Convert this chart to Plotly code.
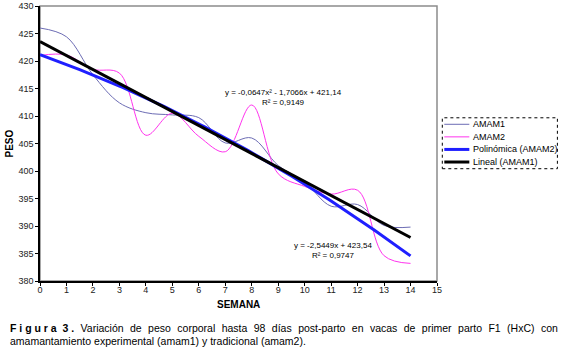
import plotly.graph_objects as go
import numpy as np

# ---- data ----
semanas = list(range(0, 15))
amam1 = [426.0, 424.4, 417.5, 412.4, 410.6, 410.2, 409.7, 405.1, 406.0, 401.0, 398.0, 393.6, 393.9, 390.1, 389.8]
amam2 = [421.0, 421.1, 418.5, 417.8, 406.5, 410.5, 406.3, 403.5, 412.0, 399.5, 397.2, 395.8, 396.5, 384.6, 383.2]
# trend line coefficients printed on the chart (highest power first)
coef_poly_amam2 = [-0.0647, -1.7066, 421.14]
coef_lin_amam1 = [-2.5449, 423.54]
eq_poly = "y = -0,0647x² - 1,7066x + 421,14<br>R² = 0,9149"
eq_lin = "y = -2,5449x + 423,54<br>R² = 0,9747"
x_ticks = list(range(0, 16))
y_ticks = list(range(380, 431, 5))
legend_names = ["AMAM1", "AMAM2", "Polinómica (AMAM2)", "Lineal (AMAM1)"]

col_amam1 = "#6c6cb4"
col_amam2 = "#ff33ee"
col_poly = "#1f1fff"
col_lin = "#000000"

FONT = "Liberation Sans, Arial, sans-serif"

xt = np.linspace(min(semanas), max(semanas), 141)
poly_y = np.polyval(coef_poly_amam2, xt)
lin_y = np.polyval(coef_lin_amam1, xt)

fig = go.Figure()
fig.add_trace(go.Scatter(x=semanas, y=amam1, mode="lines", name=legend_names[0],
                         line=dict(color=col_amam1, width=1, shape="spline", smoothing=1.0)))
fig.add_trace(go.Scatter(x=semanas, y=amam2, mode="lines", name=legend_names[1],
                         line=dict(color=col_amam2, width=1, shape="spline", smoothing=1.0)))
fig.add_trace(go.Scatter(x=xt, y=poly_y, mode="lines", name=legend_names[2],
                         line=dict(color=col_poly, width=3)))
fig.add_trace(go.Scatter(x=xt, y=lin_y, mode="lines", name=legend_names[3],
                         line=dict(color=col_lin, width=3)))

W, H = 564, 351
# plot-area geometry in pixels
L, R, T, B = 40, 436.7, 6, 281.5
pw, ph = R - L, B - T

def px(xp):
    return (xp - L) / pw

def py(yp):
    return (B - yp) / ph

shapes = [dict(type="rect", xref="paper", yref="paper", x0=0, x1=1, y0=0, y1=1,
               line=dict(color="#8c8c8c", width=1.5), layer="below")]
annotations = []

# manual compact legend (Excel style)
lx0, lx1, ly0, ly1 = 442, 557, 118, 169
shapes.append(dict(type="rect", xref="paper", yref="paper", x0=px(lx0), x1=px(lx1),
                   y0=py(ly1), y1=py(ly0), line=dict(color="#000000", width=1, dash="dot"),
                   fillcolor="white"))
leg_cols = [col_amam1, col_amam2, col_poly, col_lin]
leg_w = [1, 1, 3, 3]
for i, (nm, c, w) in enumerate(zip(legend_names, leg_cols, leg_w)):
    yy = 124.5 + i * 12.6
    shapes.append(dict(type="line", xref="paper", yref="paper", x0=px(444), x1=px(469),
                       y0=py(yy), y1=py(yy), line=dict(color=c, width=w)))
    annotations.append(dict(xref="paper", yref="paper", x=px(471), y=py(yy), text=nm,
                            showarrow=False, xanchor="left", yanchor="middle",
                            font=dict(family=FONT, size=9, color="#000")))

# trend line equations
annotations.append(dict(x=(283 - L) / 26.45, y=430 - (98 - T) / 5.51, text=eq_poly, showarrow=False,
                        xref="x", yref="y", align="center", xanchor="center", yanchor="middle",
                        font=dict(family=FONT, size=8, color="#000")))
annotations.append(dict(x=(332.5 - L) / 26.45, y=430 - (251 - T) / 5.51, text=eq_lin, showarrow=False,
                        xref="x", yref="y", align="center", xanchor="center", yanchor="middle",
                        font=dict(family=FONT, size=8, color="#000")))

# axis titles
annotations.append(dict(xref="paper", yref="paper", x=px(10), y=0.5, text="<b>PESO</b>",
                        textangle=-90, showarrow=False, xanchor="center", yanchor="middle",
                        font=dict(family=FONT, size=10, color="#000")))
annotations.append(dict(xref="paper", yref="paper", x=0.5, y=py(305), text="<b>SEMANA</b>",
                        showarrow=False, xanchor="center", yanchor="middle",
                        font=dict(family=FONT, size=10, color="#000")))

# caption (first line justified in the original -> wider word gaps)
G = " \u2005\u200a"
line1_words = "Variación de peso corporal hasta 98 días post-parto en vacas de primer parto F1 (HxC) con".split(" ")
line1 = "<b>F i g u r a  3 .</b>" + G + G.join(line1_words)
annotations.append(dict(xref="paper", yref="paper", x=px(8), y=py(328.5), xanchor="left",
                        yanchor="middle", showarrow=False, text=line1,
                        font=dict(family=FONT, size=10.5, color="#000")))
annotations.append(dict(xref="paper", yref="paper", x=px(8), y=py(341.5), xanchor="left",
                        yanchor="middle", showarrow=False,
                        text="amamantamiento experimental (amam1) y tradicional (amam2).",
                        font=dict(family=FONT, size=10.5, color="#000")))

fig.update_layout(
    width=W, height=H,
    margin=dict(l=L, r=W - R, t=T, b=H - B, pad=0),
    paper_bgcolor="white", plot_bgcolor="white",
    showlegend=False,
    font=dict(family=FONT, size=9, color="#000"),
    shapes=shapes, annotations=annotations,
)
fig.update_xaxes(range=[0, 15], tickvals=x_ticks, showgrid=False, zeroline=False, automargin=False,
                 showline=True, linecolor="#000", linewidth=1.5, ticks="outside", ticklen=3,
                 ticklabelstandoff=-4,
                 tickcolor="#000", tickfont=dict(family=FONT, size=9, color="#222"))
fig.update_yaxes(range=[380, 430], tickvals=y_ticks, showgrid=False, zeroline=False, automargin=False,
                 showline=True, linecolor="#000", linewidth=1.5, ticks="outside", ticklen=3,
                 tickcolor="#000", tickfont=dict(family=FONT, size=9, color="#222"))

fig.write_html("out.html", config={"displayModeBar": False},
               post_script="document.body.style.margin='0';document.body.style.overflow='hidden';")
